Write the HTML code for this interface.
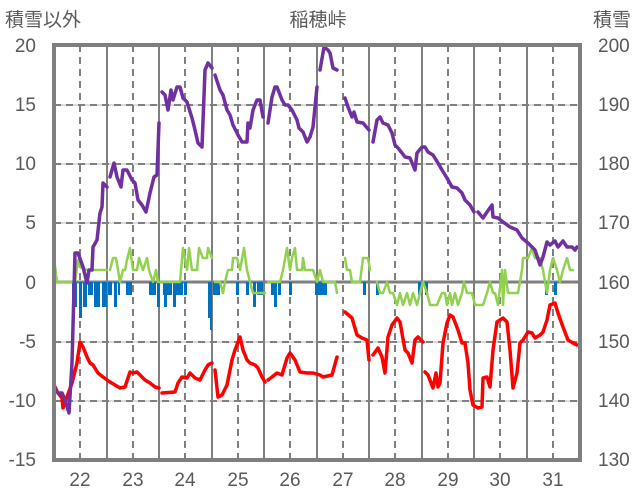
<!DOCTYPE html>
<html><head><meta charset="utf-8"><style>
html,body{margin:0;padding:0;background:#fff;}
svg{display:block;font-family:"Liberation Sans","Noto Sans CJK JP",sans-serif;}
</style></head><body>
<svg width="636" height="501" viewBox="0 0 636 501" xmlns="http://www.w3.org/2000/svg">
<g fill="#595959" font-size="19">
<text x="5" y="26">積雪以外</text>
<text x="318" y="26" text-anchor="middle">稲穂峠</text>
<text x="631" y="26" text-anchor="end">積雪</text>
<g text-anchor="end">
<text x="36" y="52">20</text><text x="36" y="111">15</text><text x="36" y="170">10</text><text x="36" y="229">5</text><text x="36" y="289">0</text><text x="36" y="348">-5</text><text x="36" y="407">-10</text><text x="36" y="466">-15</text>
</g>
<g text-anchor="start">
<text x="598" y="52">200</text><text x="598" y="111">190</text><text x="598" y="170">180</text><text x="598" y="229">170</text><text x="598" y="289">160</text><text x="598" y="348">150</text><text x="598" y="407">140</text><text x="598" y="466">130</text>
</g>
<g text-anchor="middle">
<text x="80" y="486">22</text><text x="133" y="486">23</text><text x="185" y="486">24</text><text x="238" y="486">25</text><text x="290" y="486">26</text><text x="343" y="486">27</text><text x="395" y="486">28</text><text x="448" y="486">29</text><text x="500" y="486">30</text><text x="553" y="486">31</text>
</g>
</g>
<g stroke="#d0d0d0" stroke-width="1.5">
<line x1="54" x2="580" y1="105" y2="105"/><line x1="54" x2="580" y1="164" y2="164"/><line x1="54" x2="580" y1="223" y2="223"/><line x1="54" x2="580" y1="342" y2="342"/><line x1="54" x2="580" y1="401" y2="401"/>
</g>
<g stroke="#7f7f7f" stroke-width="2" stroke-dasharray="7,5">
<line x1="54" x2="580" y1="105" y2="105"/><line x1="54" x2="580" y1="164" y2="164"/><line x1="54" x2="580" y1="223" y2="223"/><line x1="54" x2="580" y1="342" y2="342"/><line x1="54" x2="580" y1="401" y2="401"/>
<line x1="80" x2="80" y1="45" y2="460"/><line x1="133" x2="133" y1="45" y2="460"/><line x1="185" x2="185" y1="45" y2="460"/><line x1="238" x2="238" y1="45" y2="460"/><line x1="290" x2="290" y1="45" y2="460"/><line x1="343" x2="343" y1="45" y2="460"/><line x1="395" x2="395" y1="45" y2="460"/><line x1="448" x2="448" y1="45" y2="460"/><line x1="500" x2="500" y1="45" y2="460"/><line x1="553" x2="553" y1="45" y2="460"/>
</g>
<g stroke="#7f7f7f" stroke-width="2">
<line x1="107" x2="107" y1="45" y2="460"/><line x1="159" x2="159" y1="45" y2="460"/><line x1="212" x2="212" y1="45" y2="460"/><line x1="264" x2="264" y1="45" y2="460"/><line x1="317" x2="317" y1="45" y2="460"/><line x1="369" x2="369" y1="45" y2="460"/><line x1="422" x2="422" y1="45" y2="460"/><line x1="474" x2="474" y1="45" y2="460"/><line x1="527" x2="527" y1="45" y2="460"/>
</g>
<line x1="54" x2="580" y1="282" y2="282" stroke="#7f7f7f" stroke-width="3"/>
<g fill="#0070c0">
<rect x="72" y="282" width="5" height="25"/><rect x="79" y="282" width="3" height="36"/><rect x="83" y="282" width="4" height="25"/><rect x="88" y="282" width="5" height="13"/><rect x="94" y="282" width="3" height="25"/><rect x="97" y="282" width="3" height="25"/><rect x="102" y="282" width="5" height="25"/><rect x="108" y="282" width="4" height="13"/><rect x="114" y="282" width="3" height="25"/><rect x="118" y="282" width="2" height="13"/><rect x="126" y="282" width="6" height="13"/>
<rect x="149" y="282" width="7" height="13"/><rect x="157" y="282" width="3" height="25"/><rect x="163" y="282" width="4" height="13"/><rect x="164" y="282" width="3" height="25"/><rect x="167" y="282" width="5" height="13"/><rect x="173" y="282" width="3" height="25"/><rect x="176" y="282" width="7" height="13"/><rect x="184" y="282" width="3" height="13"/>
<rect x="208" y="282" width="3" height="36"/><rect x="210" y="282" width="2" height="48"/><rect x="213" y="282" width="7" height="13"/><rect x="236" y="282" width="3" height="13"/><rect x="246" y="282" width="3" height="13"/><rect x="253" y="282" width="3" height="25"/><rect x="257" y="282" width="6" height="13"/><rect x="271" y="282" width="3" height="13"/><rect x="274" y="282" width="3" height="25"/><rect x="278" y="282" width="3" height="13"/><rect x="289" y="282" width="3" height="13"/><rect x="315" y="282" width="4" height="13"/><rect x="315" y="282" width="3" height="13"/><rect x="319" y="282" width="8" height="13"/><rect x="363" y="282" width="3" height="13"/><rect x="376" y="282" width="3" height="13"/><rect x="418" y="282" width="3" height="13"/><rect x="425" y="282" width="3" height="13"/><rect x="545" y="282" width="3" height="13"/><rect x="554" y="282" width="3" height="13"/>
</g>
<g fill="none" stroke-linejoin="round" stroke-linecap="round">
<g stroke="#92d050" stroke-width="2.5">
<polyline points="54,258 57,282 75,282 78,260 80,267 87,270 107,270"/>
<polyline points="110,270 113,258 116,258 120,282 123,270 125,270 127,260 130,248 133,270 137,270 139,258 143,270 147,258 149,270 153,282 156,270 158,282 180,282 183,248 187,270 189,248 192,270 197,270 199,248 203,258 207,258 208,248 212,258"/>
<polyline points="215,282 220,282 223,293 225,282 228,270 232,270 233,258 237,258 240,270 244,248 247,270 250,282 253,293 265,293"/>
<polyline points="268,282 280,282 283,270 287,248 290,270 292,258 295,248 297,270 302,270 303,258 305,270 313,270 317,282 320,270 323,282 335,282 337,293"/>
<polyline points="345,258 347,270 350,270 352,282 360,282 363,258 368,258 370,270"/>
<polyline points="377,282 380,293 383,293 387,282 390,293 393,293 397,305 400,293 403,305 407,293 410,305 413,293 417,305 420,293 423,282 427,293 430,305 437,305 442,293 445,293 447,305 450,293 452,305 455,293 458,305 462,293 464,282 467,293 472,293 475,305 483,305 487,293 490,282 493,293 495,293 498,305 502,270 503,305 505,270 508,293 518,293 522,270 523,258 528,258 532,248 535,258 540,258 543,270 547,293 550,270 553,258 557,270 560,282 563,270 567,258 570,270 573,270"/>
</g>
<g stroke="#ff0000" stroke-width="3.5">
<polyline points="54,385 58,393 62,398 63,408 67,397 72,383 77,363 80,342 83,347 87,357 90,363 93,365 98,373 103,377 110,382 115,385 120,388 125,387 130,372 133,373 137,372 140,375 145,380 150,383 155,387 159,388"/>
<polyline points="162,393 175,392 178,383 182,377 187,378 190,373 195,378 200,380 205,370 208,365 212,363"/>
<polyline points="215,370 218,397 222,395 227,385 232,360 235,350 240,337 243,350 247,360 250,363 255,365 258,368 262,377 265,382"/>
<polyline points="268,380 272,377 277,373 282,375 287,358 290,353 295,360 300,372 307,373 313,373 320,375 323,377 332,375 337,357"/>
<polyline points="345,312 352,318 357,335 362,338 367,340 369,360"/>
<polyline points="373,355 378,348 382,357 385,373 388,337 392,325 397,318 400,322 405,350 408,353 412,363 415,340 418,337 423,342"/>
<polyline points="425,372 428,375 433,388 436,373 438,387 440,383 443,343 447,323 450,315 453,317 458,330 462,343 465,343 468,363 470,390 473,405 478,408 482,407 483,378 487,377 490,387 493,350 497,322 500,320 503,318 507,322 510,350 513,388 517,373 520,343 523,340 528,332 532,333 535,338 540,335 543,332 547,320 550,305 555,303 558,313 563,327 568,340 573,343 577,345"/>
</g>
<g stroke="#7030a0" stroke-width="3.5">
<polyline points="54,388 58,393 62,393 65,400 69,413 72,363 75,253 78,253 83,267 87,283 89,270 92,270 93,247 97,240 100,213 102,207 103,183 107,187"/>
<polyline points="110,177 114,163 117,177 121,187 123,170 127,170 132,180 135,183 138,200 142,205 146,212 150,193 154,177 157,175 159,123"/>
<polyline points="162,92 165,95 168,110 171,90 173,100 177,87 180,87 183,98 187,102 192,118 195,130 198,143 202,147 205,70 208,63 212,68"/>
<polyline points="215,75 220,90 223,95 227,110 230,115 233,125 238,135 242,142 247,142 248,123 250,128 253,110 257,100 260,100 263,117"/>
<polyline points="268,123 272,97 275,87 277,87 282,100 285,105 288,105 292,110 297,120 299,128 303,132 307,142 310,137 313,127 317,87"/>
<polyline points="320,70 324,47 328,50 330,53 333,68 337,70"/>
<polyline points="345,98 348,107 352,117 354,112 357,122 363,123 369,130"/>
<polyline points="373,142 377,120 380,117 383,123 388,125 392,133 395,145 398,148 402,153 405,157 410,158 415,170 417,153 422,147 425,147 428,152 433,155 438,163 442,170 447,178 452,187 457,188 462,193 465,200 470,205 474,212"/>
<polyline points="478,212 483,218 487,212 492,205 493,217 498,218 503,222 510,227 517,230 522,238 528,243 532,247 535,250 540,265 543,257 547,242 550,245 555,241 558,247 563,241 567,247 572,247 575,250 577,247"/>
</g>
</g>
<rect x="54" y="45" width="526" height="415" fill="none" stroke="#7f7f7f" stroke-width="4"/>
</svg>
</body></html>
